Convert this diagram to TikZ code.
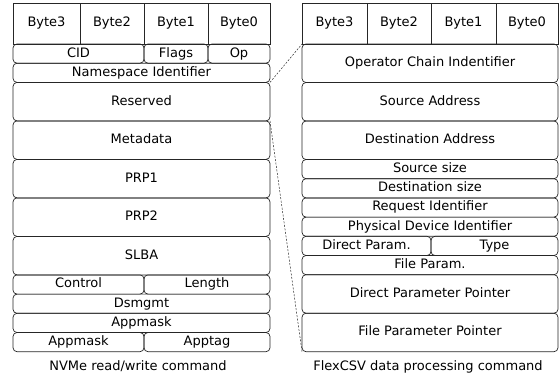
\documentclass[tikz,border=0pt]{standalone}
\usepackage{fontspec}
\setmainfont{DejaVu Sans}
\usetikzlibrary{positioning}

\begin{document}
\begin{tikzpicture}[x=1pt,y=-1pt,font=\fontsize{13}{15}\selectfont,
	line width=.7pt,draw=black!85,
	every node/.style={outer sep=0pt,text height=9.5pt,text depth=2.7pt},
	cell/.style={draw,inner sep=0pt,minimum height=41pt},
	row/.style={draw,rounded corners=4pt,inner sep=0pt,minimum height=19.2pt,minimum width=257pt},
	tall/.style={row,minimum height=38.5pt},
	part/.style={draw,rounded corners=4pt,inner sep=0pt,minimum height=19.2pt}]
	\useasboundingbox (0,0) rectangle (560,381);
	% NVMe command
	\begin{scope}
		\node[cell,minimum width=67pt,anchor=north west] (lb3) at (13,3) {Byte3};
		\node[cell,minimum width=64pt,right=0pt of lb3] (lb2) {Byte2};
		\node[cell,minimum width=64pt,right=0pt of lb2] (lb1) {Byte1};
		\node[cell,minimum width=62pt,right=0pt of lb1] (lb0) {Byte0};
		\node[part,minimum width=131pt,anchor=north west] (cid) at (lb3.south west) {CID};
		\node[part,minimum width=64pt,right=0pt of cid] (flags) {Flags};
		\node[part,minimum width=62pt,right=0pt of flags] (op) {Op};
		\node[row,anchor=north west] (nsid) at (cid.south west) {Namespace Identifier};
		\node[tall,below=0pt of nsid] (rsvd) {Reserved};
		\node[tall,below=0pt of rsvd] (meta) {Metadata};
		\node[tall,below=0pt of meta] (prp1) {PRP1};
		\node[tall,below=0pt of prp1] (prp2) {PRP2};
		\node[tall,below=0pt of prp2] (slba) {SLBA};
		\node[part,minimum width=131pt,anchor=north west] (ctrl) at (slba.south west) {Control};
		\node[part,minimum width=126pt,right=0pt of ctrl] (len) {Length};
		\node[row,anchor=north west] (dsm) at (ctrl.south west) {Dsmgmt};
		\node[row,below=0pt of dsm] (apm) {Appmask};
		\node[part,minimum width=131pt,anchor=north west] (apm2) at (apm.south west) {Appmask};
		\node[part,minimum width=126pt,right=0pt of apm2] (atag) {Apptag};
		\node (lcap) at (138,367) {NVMe read/write command};
	\end{scope}
	% FlexCSV command
	\begin{scope}
		\node[cell,minimum width=65pt,anchor=north west] (rb3) at (302,3) {Byte3};
		\node[cell,minimum width=64pt,right=0pt of rb3] (rb2) {Byte2};
		\node[cell,minimum width=65pt,right=0pt of rb2] (rb1) {Byte1};
		\node[cell,minimum width=62pt,right=0pt of rb1] (rb0) {Byte0};
		\node[tall,minimum width=256pt,anchor=north west] (oci) at (rb3.south west) {Operator Chain Indentifier};
		\node[tall,minimum width=256pt,below=0pt of oci] (src) {Source Address};
		\node[tall,minimum width=256pt,below=0pt of src] (dst) {Destination Address};
		\node[row,minimum width=256pt,below=0pt of dst] (ssz) {Source size};
		\node[row,minimum width=256pt,below=0pt of ssz] (dsz) {Destination size};
		\node[row,minimum width=256pt,below=0pt of dsz] (rid) {Request Identifier};
		\node[row,minimum width=256pt,below=0pt of rid] (pdi) {Physical Device Identifier};
		\node[part,minimum width=129pt,anchor=north west] (dpar) at (pdi.south west) {Direct Param.};
		\node[part,minimum width=127pt,right=0pt of dpar] (type) {Type};
		\node[row,minimum width=256pt,anchor=north west] (fpar) at (dpar.south west) {File Param.};
		\node[tall,minimum width=256pt,below=0pt of fpar] (dpp) {Direct Parameter Pointer};
		\node[tall,minimum width=256pt,below=0pt of dpp] (fpp) {File Parameter Pointer};
		\node (rcap) at (428,367) {FlexCSV data processing command};
	\end{scope}
	\draw[dashed,dash pattern=on 2pt off 1.5pt,line width=.5pt] (nsid.south east) -- (rb3.south west);
	\draw[dashed,dash pattern=on 2pt off 1.5pt,line width=.5pt] (meta.north east) -- (fpp.south west);
\end{tikzpicture}
\end{document}
